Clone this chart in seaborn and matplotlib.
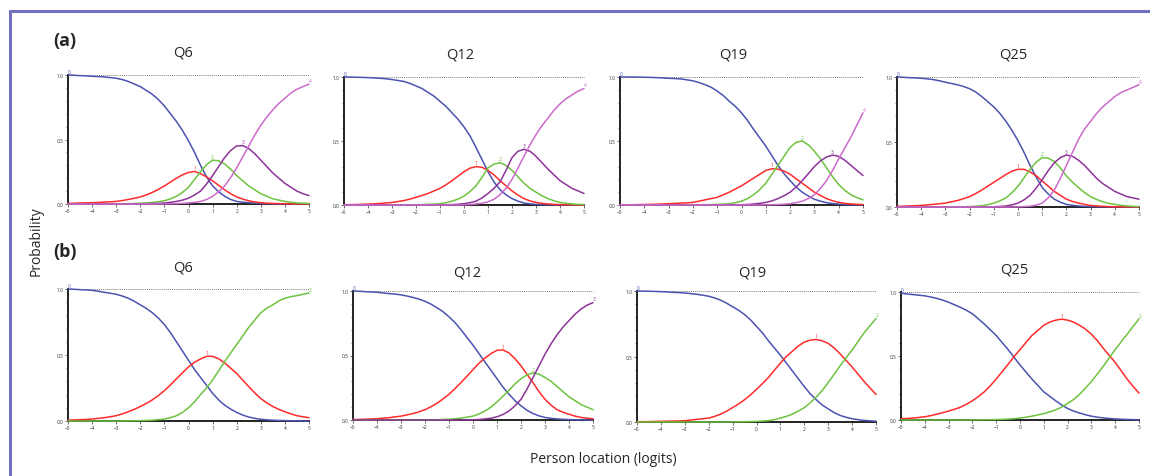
import pandas as pd
import seaborn as sns
import matplotlib.pyplot as plt
from matplotlib.lines import Line2D
from matplotlib.ticker import MultipleLocator

# person location grid (logits), quarter steps
logits = [-5, -4.75, -4.5, -4.25, -4, -3.75, -3.5, -3.25, -3, -2.75, -2.5, -2.25,
          -2, -1.75, -1.5, -1.25, -1, -0.75, -0.5, -0.25, 0, 0.25, 0.5, 0.75,
          1, 1.25, 1.5, 1.75, 2, 2.25, 2.5, 2.75, 3, 3.25, 3.5, 3.75,
          4, 4.25, 4.5, 4.75, 5]

# (a) category probability curves, one list per category (0..4)
a_q6 = [
    [1.00, 0.998, 0.995, 0.993, 0.99, 0.988, 0.985, 0.98, 0.975, 0.965, 0.95, 0.93,
     0.91, 0.88, 0.85, 0.81, 0.76, 0.70, 0.64, 0.57, 0.49, 0.40, 0.30, 0.21,
     0.14, 0.095, 0.06, 0.035, 0.02, 0.014, 0.01, 0.007, 0.004, 0.002, 0.001, 0.0005,
     0.0, 0.0, 0.0, 0.0, 0.0],
    [0.005, 0.006, 0.008, 0.009, 0.01, 0.012, 0.015, 0.017, 0.02, 0.027, 0.035, 0.044,
     0.055, 0.07, 0.09, 0.113, 0.14, 0.17, 0.20, 0.226, 0.245, 0.252, 0.235, 0.21,
     0.18, 0.145, 0.11, 0.08, 0.055, 0.038, 0.025, 0.016, 0.01, 0.006, 0.004, 0.003,
     0.002, 0.0015, 0.001, 0.0005, 0.0],
    [0.0, 0.0, 0.0, 0.0, 0.0, 0.0, 0.0, 0.0, 0.001, 0.002, 0.003, 0.004,
     0.006, 0.009, 0.012, 0.018, 0.025, 0.04, 0.06, 0.09, 0.13, 0.19, 0.25, 0.305,
     0.34, 0.335, 0.31, 0.27, 0.22, 0.18, 0.14, 0.11, 0.08, 0.06, 0.04, 0.03,
     0.02, 0.013, 0.008, 0.006, 0.004],
    [0.0, 0.0, 0.0, 0.0, 0.0, 0.0, 0.0, 0.0, 0.0, 0.0, 0.0, 0.0005,
     0.001, 0.002, 0.003, 0.005, 0.008, 0.013, 0.02, 0.03, 0.045, 0.07, 0.10, 0.155,
     0.22, 0.29, 0.36, 0.415, 0.45, 0.453, 0.43, 0.39, 0.34, 0.29, 0.24, 0.20,
     0.16, 0.13, 0.10, 0.08, 0.065],
    [0.0, 0.0, 0.0, 0.0, 0.0, 0.0, 0.0, 0.0, 0.0, 0.0, 0.0, 0.0,
     0.0, 0.0, 0.0, 0.0005, 0.001, 0.002, 0.003, 0.005, 0.008, 0.013, 0.02, 0.035,
     0.06, 0.095, 0.14, 0.205, 0.28, 0.365, 0.45, 0.535, 0.61, 0.675, 0.73, 0.78,
     0.82, 0.86, 0.89, 0.91, 0.93],
]
a_q12 = [
    [1.00, 0.999, 0.998, 0.997, 0.995, 0.993, 0.99, 0.986, 0.98, 0.973, 0.965, 0.95,
     0.93, 0.91, 0.88, 0.85, 0.81, 0.77, 0.72, 0.67, 0.61, 0.54, 0.45, 0.355,
     0.26, 0.18, 0.12, 0.08, 0.05, 0.03, 0.015, 0.009, 0.005, 0.003, 0.002, 0.001,
     0.0, 0.0, 0.0, 0.0, 0.0],
    [0.002, 0.003, 0.004, 0.005, 0.007, 0.009, 0.012, 0.016, 0.02, 0.027, 0.035, 0.046,
     0.06, 0.074, 0.09, 0.11, 0.13, 0.158, 0.19, 0.225, 0.26, 0.288, 0.30, 0.295,
     0.27, 0.235, 0.19, 0.15, 0.11, 0.077, 0.05, 0.032, 0.02, 0.013, 0.008, 0.005,
     0.003, 0.002, 0.001, 0.0005, 0.0],
    [0.0, 0.0, 0.0, 0.0, 0.0, 0.0, 0.0, 0.0, 0.0, 0.0005, 0.001, 0.0015,
     0.002, 0.003, 0.005, 0.007, 0.01, 0.018, 0.03, 0.046, 0.07, 0.105, 0.15, 0.215,
     0.29, 0.32, 0.33, 0.31, 0.27, 0.22, 0.17, 0.13, 0.10, 0.072, 0.05, 0.033,
     0.02, 0.013, 0.008, 0.005, 0.003],
    [0.0, 0.0, 0.0, 0.0, 0.0, 0.0, 0.0, 0.0, 0.0, 0.0, 0.0, 0.0,
     0.0, 0.0, 0.0, 0.0005, 0.001, 0.002, 0.003, 0.006, 0.01, 0.018, 0.03, 0.055,
     0.09, 0.13, 0.18, 0.27, 0.37, 0.42, 0.435, 0.42, 0.38, 0.33, 0.28, 0.235,
     0.19, 0.16, 0.13, 0.11, 0.09],
    [0.0, 0.0, 0.0, 0.0, 0.0, 0.0, 0.0, 0.0, 0.0, 0.0, 0.0, 0.0,
     0.0, 0.0, 0.0, 0.0, 0.0, 0.0, 0.0, 0.001, 0.002, 0.004, 0.008, 0.014,
     0.025, 0.045, 0.08, 0.13, 0.20, 0.29, 0.38, 0.47, 0.55, 0.62, 0.68, 0.74,
     0.79, 0.83, 0.86, 0.89, 0.91],
]
a_q19 = [
    [1.00, 1.00, 1.00, 0.999, 0.998, 0.997, 0.995, 0.993, 0.99, 0.988, 0.985, 0.978,
     0.97, 0.957, 0.94, 0.92, 0.89, 0.855, 0.81, 0.77, 0.72, 0.66, 0.59, 0.525,
     0.46, 0.385, 0.31, 0.245, 0.19, 0.14, 0.10, 0.07, 0.045, 0.03, 0.018, 0.011,
     0.007, 0.004, 0.002, 0.001, 0.0],
    [0.001, 0.0015, 0.002, 0.003, 0.004, 0.005, 0.006, 0.008, 0.01, 0.012, 0.015, 0.017,
     0.02, 0.03, 0.04, 0.05, 0.06, 0.08, 0.10, 0.125, 0.15, 0.18, 0.21, 0.24,
     0.27, 0.283, 0.28, 0.265, 0.24, 0.205, 0.17, 0.135, 0.10, 0.074, 0.05, 0.033,
     0.02, 0.013, 0.008, 0.005, 0.003],
    [0.0, 0.0, 0.0, 0.0, 0.0, 0.0, 0.0, 0.0, 0.0, 0.0, 0.0, 0.0005,
     0.001, 0.0015, 0.002, 0.003, 0.005, 0.007, 0.01, 0.018, 0.03, 0.05, 0.08, 0.12,
     0.17, 0.24, 0.31, 0.38, 0.45, 0.49, 0.50, 0.47, 0.42, 0.36, 0.29, 0.22,
     0.16, 0.115, 0.08, 0.058, 0.04],
    [0.0, 0.0, 0.0, 0.0, 0.0, 0.0, 0.0, 0.0, 0.0, 0.0, 0.0, 0.0,
     0.0, 0.0, 0.0, 0.0, 0.0, 0.0, 0.0, 0.001, 0.002, 0.004, 0.008, 0.013,
     0.02, 0.032, 0.05, 0.072, 0.10, 0.14, 0.19, 0.245, 0.30, 0.345, 0.375, 0.39,
     0.38, 0.35, 0.31, 0.27, 0.23],
    [0.0, 0.0, 0.0, 0.0, 0.0, 0.0, 0.0, 0.0, 0.0, 0.0, 0.0, 0.0,
     0.0, 0.0, 0.0, 0.0, 0.0, 0.0, 0.0, 0.0, 0.0, 0.0, 0.0, 0.0005,
     0.001, 0.002, 0.003, 0.006, 0.01, 0.018, 0.03, 0.05, 0.08, 0.13, 0.19, 0.27,
     0.36, 0.445, 0.53, 0.625, 0.72],
]
a_q25 = [
    [1.00, 0.998, 0.995, 0.993, 0.99, 0.986, 0.98, 0.971, 0.96, 0.95, 0.94, 0.927,
     0.91, 0.885, 0.85, 0.81, 0.77, 0.72, 0.66, 0.59, 0.51, 0.42, 0.32, 0.23,
     0.15, 0.10, 0.06, 0.037, 0.02, 0.013, 0.008, 0.005, 0.003, 0.002, 0.001, 0.0005,
     0.0, 0.0, 0.0, 0.0, 0.0],
    [0.005, 0.006, 0.008, 0.01, 0.012, 0.016, 0.02, 0.025, 0.03, 0.04, 0.05, 0.064,
     0.08, 0.103, 0.13, 0.16, 0.19, 0.22, 0.25, 0.275, 0.29, 0.29, 0.27, 0.24,
     0.20, 0.16, 0.12, 0.09, 0.06, 0.043, 0.03, 0.02, 0.012, 0.008, 0.005, 0.003,
     0.002, 0.0015, 0.001, 0.0005, 0.0],
    [0.0, 0.0, 0.0, 0.0, 0.0, 0.0, 0.0, 0.0, 0.0, 0.0005, 0.001, 0.002,
     0.003, 0.006, 0.01, 0.018, 0.03, 0.047, 0.07, 0.11, 0.16, 0.225, 0.29, 0.345,
     0.38, 0.375, 0.35, 0.30, 0.24, 0.19, 0.15, 0.11, 0.08, 0.058, 0.04, 0.028,
     0.02, 0.013, 0.008, 0.005, 0.003],
    [0.0, 0.0, 0.0, 0.0, 0.0, 0.0, 0.0, 0.0, 0.0, 0.0, 0.0, 0.0,
     0.0, 0.0, 0.0, 0.001, 0.002, 0.004, 0.008, 0.016, 0.03, 0.055, 0.09, 0.145,
     0.21, 0.28, 0.34, 0.38, 0.40, 0.39, 0.36, 0.32, 0.27, 0.22, 0.18, 0.15,
     0.12, 0.10, 0.08, 0.07, 0.06],
    [0.0, 0.0, 0.0, 0.0, 0.0, 0.0, 0.0, 0.0, 0.0, 0.0, 0.0, 0.0,
     0.0, 0.0, 0.0, 0.0, 0.0, 0.0, 0.0, 0.0, 0.001, 0.003, 0.006, 0.014,
     0.03, 0.07, 0.13, 0.22, 0.32, 0.42, 0.52, 0.60, 0.66, 0.72, 0.77, 0.81,
     0.85, 0.88, 0.90, 0.92, 0.94],
]

# (b)
b_q6 = [
    [1.00, 0.998, 0.995, 0.993, 0.99, 0.983, 0.975, 0.968, 0.96, 0.947, 0.93, 0.907,
     0.88, 0.853, 0.82, 0.78, 0.73, 0.67, 0.60, 0.53, 0.46, 0.39, 0.33, 0.27,
     0.21, 0.16, 0.12, 0.09, 0.065, 0.045, 0.03, 0.02, 0.013, 0.009, 0.006, 0.004,
     0.003, 0.002, 0.001, 0.0005, 0.0],
    [0.006, 0.008, 0.01, 0.012, 0.015, 0.02, 0.025, 0.032, 0.04, 0.054, 0.07, 0.088,
     0.11, 0.133, 0.16, 0.193, 0.23, 0.273, 0.32, 0.365, 0.41, 0.445, 0.47, 0.49,
     0.49, 0.472, 0.44, 0.40, 0.36, 0.31, 0.26, 0.213, 0.17, 0.137, 0.11, 0.088,
     0.07, 0.054, 0.04, 0.032, 0.025],
    [0.0, 0.0, 0.0, 0.0, 0.0, 0.0, 0.0, 0.0, 0.0, 0.0005, 0.001, 0.002,
     0.003, 0.004, 0.006, 0.01, 0.015, 0.025, 0.04, 0.065, 0.10, 0.145, 0.20, 0.25,
     0.31, 0.38, 0.45, 0.515, 0.58, 0.645, 0.71, 0.765, 0.82, 0.855, 0.88, 0.91,
     0.93, 0.942, 0.95, 0.96, 0.97],
]
b_q12 = [
    [1.00, 0.998, 0.995, 0.993, 0.99, 0.985, 0.98, 0.976, 0.97, 0.961, 0.95, 0.937,
     0.92, 0.898, 0.87, 0.84, 0.80, 0.755, 0.70, 0.64, 0.58, 0.515, 0.45, 0.385,
     0.32, 0.255, 0.20, 0.15, 0.11, 0.075, 0.05, 0.032, 0.02, 0.013, 0.008, 0.005,
     0.003, 0.002, 0.001, 0.0005, 0.0],
    [0.003, 0.0045, 0.006, 0.008, 0.01, 0.014, 0.018, 0.024, 0.03, 0.04, 0.05, 0.063,
     0.08, 0.103, 0.13, 0.163, 0.20, 0.243, 0.29, 0.34, 0.39, 0.44, 0.48, 0.515,
     0.54, 0.543, 0.52, 0.475, 0.42, 0.355, 0.29, 0.22, 0.16, 0.115, 0.08, 0.06,
     0.045, 0.03, 0.02, 0.014, 0.01],
    [0.0, 0.0, 0.0, 0.0, 0.0, 0.0, 0.0, 0.0, 0.0, 0.0, 0.0, 0.0,
     0.0, 0.001, 0.002, 0.004, 0.006, 0.01, 0.015, 0.022, 0.03, 0.047, 0.07, 0.10,
     0.14, 0.185, 0.23, 0.28, 0.32, 0.35, 0.365, 0.355, 0.33, 0.30, 0.26, 0.22,
     0.18, 0.15, 0.12, 0.10, 0.08],
    [0.0, 0.0, 0.0, 0.0, 0.0, 0.0, 0.0, 0.0, 0.0, 0.0, 0.0, 0.0,
     0.0, 0.0, 0.0, 0.0, 0.0, 0.0, 0.0, 0.0, 0.002, 0.004, 0.008, 0.014,
     0.025, 0.043, 0.07, 0.11, 0.16, 0.24, 0.33, 0.42, 0.51, 0.59, 0.66, 0.72,
     0.77, 0.82, 0.86, 0.89, 0.91],
]
b_q19 = [
    [1.00, 0.999, 0.998, 0.997, 0.995, 0.993, 0.99, 0.988, 0.985, 0.98, 0.975, 0.968,
     0.96, 0.947, 0.93, 0.907, 0.88, 0.853, 0.82, 0.78, 0.73, 0.68, 0.62, 0.565,
     0.51, 0.45, 0.39, 0.33, 0.27, 0.215, 0.17, 0.13, 0.10, 0.072, 0.05, 0.036,
     0.025, 0.018, 0.012, 0.009, 0.006],
    [0.002, 0.0025, 0.003, 0.004, 0.005, 0.006, 0.007, 0.008, 0.01, 0.015, 0.02, 0.025,
     0.03, 0.043, 0.06, 0.083, 0.11, 0.138, 0.17, 0.207, 0.25, 0.293, 0.34, 0.395,
     0.45, 0.50, 0.54, 0.58, 0.61, 0.625, 0.63, 0.62, 0.60, 0.565, 0.52, 0.47,
     0.42, 0.365, 0.31, 0.26, 0.21],
    [0.0, 0.0, 0.0, 0.0, 0.0, 0.0, 0.0, 0.0, 0.0, 0.0, 0.0, 0.0,
     0.0, 0.0, 0.0, 0.0, 0.001, 0.0015, 0.002, 0.003, 0.005, 0.007, 0.01, 0.018,
     0.03, 0.043, 0.06, 0.083, 0.11, 0.147, 0.19, 0.24, 0.30, 0.365, 0.43, 0.49,
     0.55, 0.615, 0.68, 0.735, 0.79],
]
b_q25 = [
    [0.99, 0.985, 0.98, 0.975, 0.97, 0.961, 0.95, 0.937, 0.92, 0.90, 0.88, 0.857,
     0.83, 0.79, 0.75, 0.705, 0.66, 0.605, 0.55, 0.49, 0.43, 0.375, 0.32, 0.27,
     0.22, 0.185, 0.15, 0.118, 0.09, 0.07, 0.055, 0.041, 0.03, 0.022, 0.016, 0.012,
     0.008, 0.006, 0.004, 0.003, 0.002],
    [0.01, 0.012, 0.015, 0.02, 0.025, 0.034, 0.045, 0.057, 0.07, 0.084, 0.10, 0.123,
     0.15, 0.183, 0.22, 0.267, 0.32, 0.378, 0.435, 0.495, 0.55, 0.605, 0.66, 0.70,
     0.74, 0.765, 0.78, 0.788, 0.78, 0.765, 0.74, 0.71, 0.67, 0.62, 0.56, 0.505,
     0.45, 0.385, 0.32, 0.263, 0.21],
    [0.0, 0.0, 0.0, 0.0, 0.0, 0.0, 0.0, 0.0, 0.0, 0.0, 0.0, 0.0005,
     0.001, 0.0015, 0.002, 0.0025, 0.003, 0.005, 0.007, 0.01, 0.015, 0.022, 0.03, 0.04,
     0.05, 0.063, 0.08, 0.10, 0.13, 0.16, 0.20, 0.25, 0.30, 0.36, 0.42, 0.485,
     0.55, 0.61, 0.67, 0.73, 0.79],
]

items = ['Q6', 'Q12', 'Q19', 'Q25']
cat_colors = ['#4b52b0', '#ff2a2a', '#6dc23f', '#8c3398', '#cc6acc']

W, H = 1150, 477

sns.set_style('white')
plt.rcParams['font.family'] = ['Open Sans', 'DejaVu Sans']

fig = plt.figure(figsize=(W / 100, H / 100), dpi=100)

# panel boxes in pixels: left, right, top(p=1), bottom(p=0); title centre
layout = [
    (a_q6, items[0], (68, 309, 76, 205), (183, 53)),
    (a_q12, items[1], (344, 584, 78, 206), (460, 55)),
    (a_q19, items[2], (620, 863, 78, 206), (733, 55)),
    (a_q25, items[3], (897, 1139, 78, 208), (1013, 55)),
    (b_q6, items[0], (68, 309, 290, 422), (183, 268)),
    (b_q12, items[1], (353, 593, 292, 421), (467, 273)),
    (b_q19, items[2], (637, 876, 292, 423), (752, 273)),
    (b_q25, items[3], (901, 1139, 293, 421), (1014, 270)),
]

for cats, title, (l, r, t, b), (tx, ty) in layout:
    ax = fig.add_axes([l / W, 1 - b / H, (r - l) / W, (b - t) / H])
    rows = []
    for k, vals in enumerate(cats):
        assert len(vals) == len(logits), (title, k, len(vals))
        for x, p in zip(logits, vals):
            rows.append((x, p, k))
    df = pd.DataFrame(rows, columns=['logit', 'prob', 'cat'])
    ax.axhline(1.0, color='#555555', ls=(0, (1, 1.3)), lw=0.6, zorder=1)
    sns.lineplot(data=df, x='logit', y='prob', hue='cat',
                 palette=cat_colors[:len(cats)], legend=False, lw=1.1, ax=ax, zorder=3)
    for line in ax.lines:
        line.set_clip_on(False)
    ax.set_xlim(-5, 5)
    ax.set_ylim(0, 1)
    ax.set_xticks(range(-5, 6))
    ax.set_yticks([0, 0.5, 1.0])
    ax.set_yticklabels(['0.0', '0.5', '1.0'])
    ax.yaxis.set_minor_locator(MultipleLocator(0.1))
    ax.tick_params(axis='both', which='major', labelsize=3.5, length=2, width=0.5, pad=1,
                   left=True, bottom=True, colors='#333333')
    ax.tick_params(axis='y', which='minor', length=1.2, width=0.4, left=True)
    ax.set_xlabel('')
    ax.set_ylabel('')
    sns.despine(ax=ax)
    for side in ['left', 'bottom']:
        ax.spines[side].set_linewidth(1.4)
        ax.spines[side].set_color('#222222')
    ax.patch.set_alpha(0)

    # small category numbers on the curves
    last = len(cats) - 1
    for k, vals in enumerate(cats):
        if k == 0:
            x, y, ha = logits[0], vals[0], 'left'
        elif k == last:
            x, y, ha = logits[-1], vals[-1], 'left'
        else:
            i = vals.index(max(vals))
            x, y, ha = logits[i], vals[i], 'center'
        ax.text(x, y + 0.01, str(k), color=cat_colors[k], fontsize=3.5,
                ha=ha, va='bottom', clip_on=False)

    fig.text(tx / W, 1 - ty / H, title, ha='center', va='center', fontsize=10.5)

fig.text(65 / W, 1 - 41 / H, '(a)', ha='center', va='center', fontsize=13, fontweight='bold')
fig.text(65 / W, 1 - 252 / H, '(b)', ha='center', va='center', fontsize=13, fontweight='bold')
fig.text(36 / W, 1 - 241 / H, 'Probability', ha='center', va='center', rotation=90, fontsize=10)
fig.text(603 / W, 1 - 460 / H, 'Person location (logits)', ha='center', va='center', fontsize=10)

# frame lines at top and left of the figure
border = '#7272c0'
fig.add_artist(Line2D([10 / W, 1], [1 - 12 / H, 1 - 12 / H], color=border, lw=2.2))
fig.add_artist(Line2D([10 / W, 10 / W], [0, 1 - 12 / H], color=border, lw=2.2))

fig.savefig('out.png', dpi=100)
